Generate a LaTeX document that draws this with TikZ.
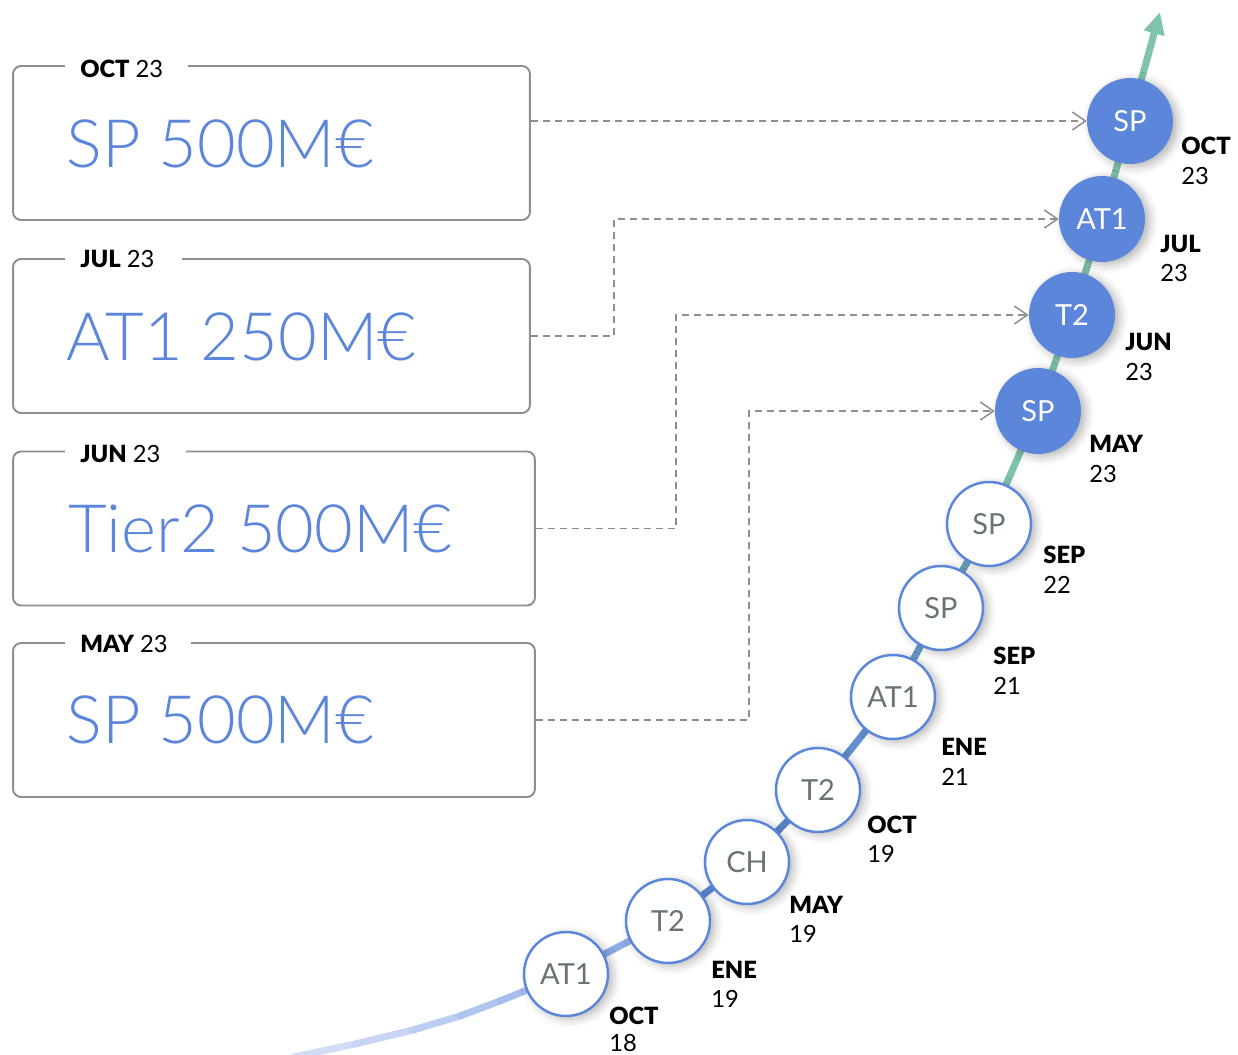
\documentclass[tikz,border=0pt]{standalone}
\usepackage{fontspec}
\setmainfont{Lato}
\IfFontExistsTF{Lato Light}{\newfontfamily\thinfont{Lato Light}}{\newfontfamily\thinfont{Lato}}
\IfFontExistsTF{Lato Black}{\newfontfamily\heavyfont{Lato Black}}{\newcommand\heavyfont{\bfseries}}
\usetikzlibrary{arrows.meta,shadows.blur,backgrounds,calc}

\definecolor{issueblue}{HTML}{5B86D9}
\definecolor{framegray}{HTML}{8E8E8E}
\definecolor{initgray}{HTML}{68756F}
\definecolor{trendgreen}{HTML}{7FC3AC}

\tikzset{
  issued/.style={circle, minimum size=1.72cm, inner sep=0pt, fill=issueblue,
    text=white, font=\fontsize{16.5}{16.5}\selectfont,
    blur shadow={shadow xshift=2.5pt, shadow yshift=-1.5pt, shadow blur radius=5pt, shadow opacity=30}},
  pastissue/.style={circle, minimum size=1.68cm, inner sep=0pt, fill=white,
    draw=issueblue, line width=1.4pt, text=initgray, font=\fontsize{16.5}{16.5}\selectfont,
    blur shadow={shadow xshift=2.5pt, shadow yshift=-1.5pt, shadow blur radius=5pt, shadow opacity=30}},
  monthlbl/.style={anchor=base west, inner sep=0pt, font=\fontsize{13.5}{13.5}\selectfont\heavyfont},
  yearlbl/.style={anchor=base west, inner sep=0pt, font=\fontsize{13.5}{13.5}\selectfont},
  bondbox/.style={draw=framegray, line width=1.1pt, rounded corners=0.16cm,
    minimum height=3.08cm, inner sep=0pt},
  boxtitle/.style={anchor=west, fill=white, inner xsep=0.3cm, inner ysep=2pt,
    font=\fontsize{13.5}{13.5}\selectfont},
  amount/.style={anchor=west, inner sep=0pt, text=issueblue,
    font=\thinfont\fontsize{38}{38}\selectfont},
  link/.style={draw=framegray, line width=0.85pt, dash pattern=on 1.4mm off 1mm,
    -{Straight Barb[length=2.6mm,width=3.6mm]}},
  trendseg/.style={line width=0.14cm, line cap=round},
}

\begin{document}
\begin{tikzpicture}[x=0.02cm,y=-0.02cm]
\useasboundingbox (0,0) rectangle (1238,1055);

% issue boxes on the left
\node[bondbox, minimum width=10.34cm] (b1) at (271.5,143) {};
\node[bondbox, minimum width=10.34cm] (b2) at (271.5,336) {};
\node[bondbox, minimum width=10.44cm] (b3) at (274,528.5) {};
\node[bondbox, minimum width=10.44cm] (b4) at (274,720) {};

% box titles sit on the top edge, wider white patch on the right
\node[boxtitle] (h1) at (65,69) {{\heavyfont OCT} 23\kern0.2cm};
\node[boxtitle] (h2) at (65,259) {{\heavyfont JUL} 23\kern0.26cm};
\node[boxtitle] (h3) at (65,454) {{\heavyfont JUN} 23\kern0.22cm};
\node[boxtitle] (h4) at (65,644) {{\heavyfont MAY} 23\kern0.16cm};

\node[amount] (a1) at (66,144) {SP 500M€};
\node[amount] (a2) at (66,337) {AT1 250M€};
\node[amount] (a3) at (68,529) {Tier2 500M€};
\node[amount] (a4) at (66,720) {SP 500M€};

% issuance timeline
\node[issued] (c1) at (1130,121) {SP};
\node[issued] (c2) at (1102,219) {AT1};
\node[issued] (c3) at (1072,315) {T2};
\node[issued] (c4) at (1038,411) {SP};
\node[pastissue] (c5) at (989,524) {SP};
\node[pastissue] (c6) at (941,608) {SP};
\node[pastissue] (c7) at (893,697) {AT1};
\node[pastissue] (c8) at (818,790) {T2};
\node[pastissue] (c9) at (747,862) {CH};
\node[pastissue] (c10) at (668,921) {T2};
\node[pastissue] (c11) at (566,974) {AT1};

\coordinate (tip) at (1160,12);
\coordinate (t0) at (294,1057);
\coordinate (t1) at (355,1044);
\coordinate (t2) at (413,1030);
\coordinate (t3) at (460,1016);
\coordinate (t4) at (500,1001);

% dates beside the timeline
\node[monthlbl] (m1) at (1181,154) {OCT};  \node[yearlbl] (y1) at (1181,184) {23};
\node[monthlbl] (m2) at (1160,252) {JUL};  \node[yearlbl] (y2) at (1160,281) {23};
\node[monthlbl] (m3) at (1125,350) {JUN};  \node[yearlbl] (y3) at (1125,380) {23};
\node[monthlbl] (m4) at (1089,452) {MAY};  \node[yearlbl] (y4) at (1089,482) {23};
\node[monthlbl] (m5) at (1043,563) {SEP};  \node[yearlbl] (y5) at (1043,593) {22};
\node[monthlbl] (m6) at (993,664) {SEP};   \node[yearlbl] (y6) at (993,694) {21};
\node[monthlbl] (m7) at (941,755) {ENE};   \node[yearlbl] (y7) at (941,785) {21};
\node[monthlbl] (m8) at (867,833) {OCT};   \node[yearlbl] (y8) at (867,862) {19};
\node[monthlbl] (m9) at (789,913) {MAY};   \node[yearlbl] (y9) at (789,942) {19};
\node[monthlbl] (m10) at (711,978) {ENE};  \node[yearlbl] (y10) at (711,1007) {19};
\node[monthlbl] (m11) at (609,1024) {OCT}; \node[yearlbl] (y11) at (609,1051) {18};

% trend line behind the circles, fading from pale blue to green
\begin{scope}[on background layer]
  \draw[trendseg, color={rgb,255:red,208;green,221;blue,245}] (t0) -- (t1);
  \draw[trendseg, color={rgb,255:red,198;green,213;blue,243}] (t1) -- (t2);
  \draw[trendseg, color={rgb,255:red,187;green,205;blue,240}] (t2) -- (t3);
  \draw[trendseg, color={rgb,255:red,176;green,197;blue,238}] (t3) -- (t4);
  \draw[trendseg, color={rgb,255:red,166;green,190;blue,236}] (t4) -- (c11);
  \draw[trendseg, color={rgb,255:red,141;green,172;blue,230}] (c11) -- (c10);
  \draw[trendseg, color={rgb,255:red,94;green,137;blue,214}] (c10) -- (c9);
  \draw[trendseg, color={rgb,255:red,91;green,134;blue,210}] (c9) -- (c8);
  \draw[trendseg, color={rgb,255:red,96;green,144;blue,207}] (c8) -- (c7);
  \draw[trendseg, color={rgb,255:red,106;green,152;blue,196}] (c7) -- (c6);
  \draw[trendseg, color={rgb,255:red,108;green,164;blue,186}] (c6) -- (c5);
  \draw[trendseg, color=trendgreen] (c5) -- (c4) -- (c3) -- (c2) -- (c1);
  \draw[line width=0.14cm, color=trendgreen, -{Triangle[length=0.44cm,width=0.4cm]}] (c1.center) -- (tip);
\end{scope}

% dashed links from the boxes to the new issues
\draw[link] (b1.east |- c1.west) -- (c1.west);
\draw[link] (b2.east) -- ++(83,0) |- (c2.west);
\draw[link] (b3.east) -- ++(140,0) |- (c3.west);
\draw[link] (b4.east) -- ++(213,0) |- (c4.west);
\end{tikzpicture}
\end{document}
